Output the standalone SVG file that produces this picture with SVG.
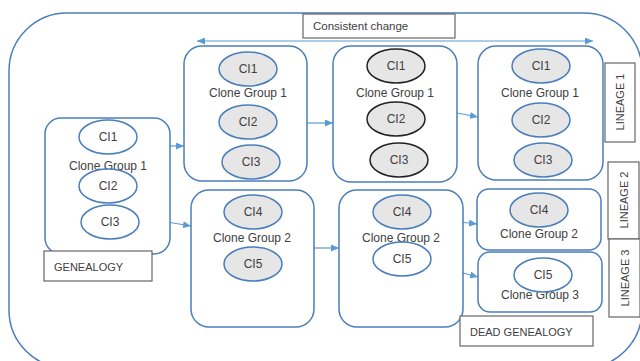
<svg xmlns="http://www.w3.org/2000/svg" width="640" height="361" viewBox="0 0 640 361">
<defs>
<style>
.box{fill:#fff;stroke:#4a7ebb;stroke-width:1.5}
.ew{fill:#fff;stroke:#4a7ebb;stroke-width:1.5}
.eg{fill:#e7e6e6;stroke:#4a7ebb;stroke-width:1.5}
.ek{fill:#e7e6e6;stroke:#222;stroke-width:1.5}
.lbl{fill:#fff;stroke:#666;stroke-width:1.2}
text{font-family:"Liberation Sans",Arial,sans-serif;fill:#404040;font-size:12px}
.c{text-anchor:middle}
.s{font-size:11px}
.con{stroke:#5b9bd5;stroke-width:1.2;fill:none}
</style>
<marker id="ah" viewBox="0 0 8 7" refX="8" refY="3.5" markerWidth="8" markerHeight="7" markerUnits="userSpaceOnUse" orient="auto-start-reverse">
<path d="M0,0 L8,3.5 L0,7 z" fill="#5b9bd5"/>
</marker>
</defs>
<rect x="9" y="13" width="633" height="355" rx="58" ry="58" fill="#fff" stroke="#4a7ebb" stroke-width="1.5"/>

<g id="consistent-change">
<rect class="lbl" x="303" y="14" width="152" height="24"/>
<text x="313" y="30" style="font-size:11.5px">Consistent change</text>
</g>

<g id="connectors">
<line class="con" x1="197" y1="41" x2="593" y2="41" marker-start="url(#ah)" marker-end="url(#ah)"/>
<line class="con" x1="170" y1="146" x2="184" y2="146" marker-end="url(#ah)"/>
<line class="con" x1="167" y1="222" x2="191" y2="226" marker-end="url(#ah)"/>
<line class="con" x1="307" y1="123" x2="333" y2="123" marker-end="url(#ah)"/>
<line class="con" x1="457" y1="113" x2="478" y2="117" marker-end="url(#ah)"/>
<line class="con" x1="314" y1="248" x2="339" y2="248" marker-end="url(#ah)"/>
<line class="con" x1="460" y1="222" x2="477" y2="224" marker-end="url(#ah)"/>
<line class="con" x1="463" y1="273" x2="478" y2="277" marker-end="url(#ah)"/>
</g>

<g id="genealogy-group1">
<rect class="box" x="45" y="118" width="125" height="136" rx="16"/>
<text class="c" x="108" y="170">Clone Group 1</text>
<ellipse class="ew" cx="108" cy="137" rx="29" ry="17"/>
<text class="c" x="108" y="141">CI1</text>
<ellipse class="ew" cx="108" cy="186" rx="29" ry="17"/>
<text class="c" x="108" y="190">CI2</text>
<ellipse class="ew" cx="110" cy="222" rx="29" ry="17"/>
<text class="c" x="110" y="226">CI3</text>
</g>

<g id="genealogy-label">
<rect class="lbl" x="44" y="251" width="108" height="30"/>
<text x="54" y="271" class="s">GENEALOGY</text>
</g>

<g id="v2-group1">
<rect class="box" x="184" y="46" width="123" height="135" rx="18"/>
<ellipse class="eg" cx="248" cy="69" rx="29" ry="17"/>
<text class="c" x="248" y="73">CI1</text>
<text class="c" x="248" y="97">Clone Group 1</text>
<ellipse class="eg" cx="248" cy="122" rx="29" ry="17"/>
<text class="c" x="248" y="126">CI2</text>
<ellipse class="eg" cx="251" cy="162" rx="29" ry="17"/>
<text class="c" x="251" y="166">CI3</text>
</g>

<g id="v3-group1">
<rect class="box" x="333" y="46" width="124" height="136" rx="18"/>
<ellipse class="ek" cx="396" cy="66" rx="29" ry="17"/>
<text class="c" x="396" y="70">CI1</text>
<text class="c" x="395" y="97">Clone Group 1</text>
<ellipse class="ek" cx="396" cy="119" rx="29" ry="17"/>
<text class="c" x="396" y="123">CI2</text>
<ellipse class="ek" cx="399" cy="160" rx="29" ry="17"/>
<text class="c" x="399" y="164">CI3</text>
</g>

<g id="v4-group1">
<rect class="box" x="478" y="46" width="125" height="134" rx="18"/>
<ellipse class="eg" cx="541" cy="66" rx="29" ry="17"/>
<text class="c" x="541" y="70">CI1</text>
<text class="c" x="540" y="97">Clone Group 1</text>
<ellipse class="eg" cx="541" cy="120" rx="29" ry="17"/>
<text class="c" x="541" y="124">CI2</text>
<ellipse class="eg" cx="543" cy="160" rx="29" ry="17"/>
<text class="c" x="543" y="164">CI3</text>
</g>

<g id="v2-group2">
<rect class="box" x="191" y="190" width="123" height="137" rx="18"/>
<ellipse class="eg" cx="253" cy="212" rx="29" ry="17"/>
<text class="c" x="253" y="216">CI4</text>
<text class="c" x="252" y="242">Clone Group 2</text>
<ellipse class="eg" cx="253" cy="264" rx="29" ry="17"/>
<text class="c" x="253" y="268">CI5</text>
</g>

<g id="v3-group2">
<rect class="box" x="339" y="190" width="124" height="137" rx="18"/>
<ellipse class="eg" cx="402" cy="212" rx="29" ry="17"/>
<text class="c" x="402" y="216">CI4</text>
<text class="c" x="401" y="242">Clone Group 2</text>
<ellipse class="ew" cx="402" cy="259" rx="29" ry="17"/>
<text class="c" x="402" y="263">CI5</text>
</g>

<g id="v4-group2">
<rect class="box" x="477" y="189" width="124" height="61" rx="12"/>
<ellipse class="eg" cx="539" cy="210" rx="29" ry="17"/>
<text class="c" x="539" y="214">CI4</text>
<text class="c" x="539" y="238">Clone Group 2</text>
</g>

<g id="v4-group3">
<rect class="box" x="478" y="252" width="124" height="60" rx="12"/>
<text class="c" x="540" y="299">Clone Group 3</text>
<ellipse class="ew" cx="543" cy="275" rx="29" ry="17"/>
<text class="c" x="543" y="279">CI5</text>
</g>

<g id="dead-genealogy">
<rect class="lbl" x="460" y="316" width="133" height="30"/>
<text x="470" y="336" class="s">DEAD GENEALOGY</text>
</g>

<g id="lineage1">
<rect class="lbl" x="605" y="63" width="30" height="79"/>
<text class="c s" transform="translate(624,102) rotate(-90)">LINEAGE 1</text>
</g>
<g id="lineage2">
<rect class="lbl" x="608" y="162" width="31" height="77"/>
<text class="c s" transform="translate(628,200) rotate(-90)">LINEAGE 2</text>
</g>
<g id="lineage3">
<rect class="lbl" x="609" y="239" width="31" height="78"/>
<text class="c s" transform="translate(629,278) rotate(-90)">LINEAGE 3</text>
</g>
</svg>
